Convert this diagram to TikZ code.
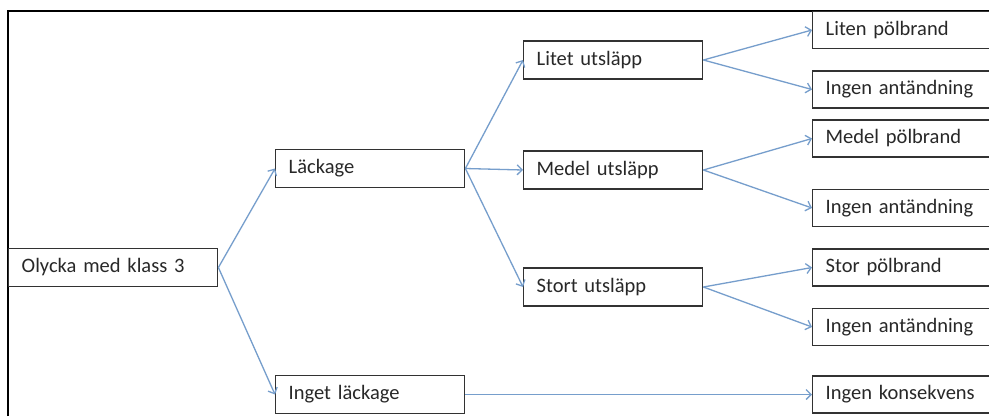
\documentclass[tikz,border=0pt]{standalone}
\usepackage{fontspec}
\setmainfont{Carlito}
\usetikzlibrary{arrows.meta}
\definecolor{boxline}{RGB}{50,50,50}
\definecolor{textgray}{RGB}{40,40,40}
\definecolor{arrowblue}{RGB}{118,158,204}
\begin{document}
\begin{tikzpicture}[x=1pt,y=-1pt,
  box/.style={draw=boxline, line width=1.4pt, anchor=west, minimum height=38pt,
    inner xsep=13pt, inner ysep=0pt, align=left, text=textgray,
    font=\fontsize{20.5}{24}\selectfont},
  first/.style={box, text width=183pt},
  second/.style={box, text width=163pt},
  third/.style={box, text width=153pt},
  last/.style={box, text width=156pt, minimum height=37pt},
  arr/.style={draw=arrowblue, line width=1.3pt, -{Straight Barb[length=5pt,width=10pt]}}]
\useasboundingbox (0,0) rectangle (989,416);
\clip (0,0) rectangle (989,416);
\fill[white] (0,0) rectangle (989,416);
% frame
\draw[line width=1.5pt] (8,416) -- (8,11) -- (995,11);
% tree
\node[first] (olycka) at (8,267.5) {Olycka med klass 3};
\node[second] (lackage) at (275,168.5) {Läckage};
\node[second] (inget) at (275,394.5) {Inget läckage};
\node[third] (litet) at (523,60) {Litet utsläpp};
\node[third] (medel) at (523,170) {Medel utsläpp};
\node[third] (stort) at (523,287) {Stort utsläpp};
\node[last] (litenbrand) at (812,30) {Liten pölbrand};
\node[last] (ingen1) at (812,89.5) {Ingen antändning};
\node[last] (medelbrand) at (812,138.5) {Medel pölbrand};
\node[last] (ingen2) at (812,208) {Ingen antändning};
\node[last] (storbrand) at (812,267.5) {Stor pölbrand};
\node[last] (ingen3) at (812,327) {Ingen antändning};
\node[last] (konsekvens) at (812,394.5) {Ingen konsekvens};
% arrows
\draw[arr] (olycka.east) -- (lackage.west);
\draw[arr] (olycka.east) -- (inget.west);
\draw[arr] (lackage.east) -- (litet.west);
\draw[arr] (lackage.east) -- (medel.west);
\draw[arr] (lackage.east) -- (stort.west);
\draw[arr] (litet.east) -- (litenbrand.west);
\draw[arr] (litet.east) -- (ingen1.west);
\draw[arr] (medel.east) -- (medelbrand.west);
\draw[arr] (medel.east) -- (ingen2.west);
\draw[arr] (stort.east) -- (storbrand.west);
\draw[arr] (stort.east) -- (ingen3.west);
\draw[arr] (inget.east) -- (konsekvens.west);
\end{tikzpicture}
\end{document}
